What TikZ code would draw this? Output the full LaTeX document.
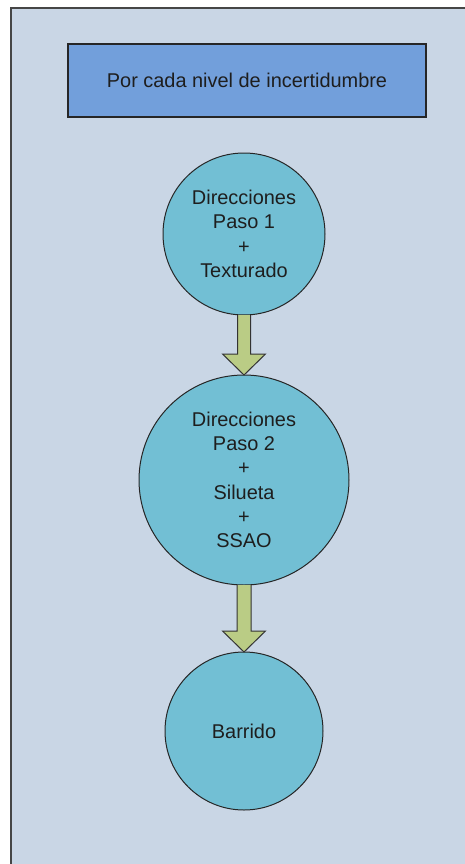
\documentclass[tikz,border=0pt]{standalone}
\usepackage{fontspec}
\setmainfont{Liberation Sans}
\usetikzlibrary{calc}
\definecolor{framebg}{RGB}{201,214,229}
\definecolor{frameline}{RGB}{70,70,70}
\definecolor{boxfill}{RGB}{114,159,219}
\definecolor{circfill}{RGB}{114,191,212}
\definecolor{arrfill}{RGB}{186,204,133}
\definecolor{txt}{RGB}{30,30,30}
\tikzset{
  titlebox/.style={draw=black!85, line width=1.2bp, fill=boxfill, minimum width=358bp, minimum height=73bp, inner sep=0, outer sep=0, text=txt, font=\fontsize{20}{24}\selectfont},
  stage/.style={circle, draw=black!85, line width=1bp, fill=circfill, inner sep=0, outer sep=0, align=center, text=txt, font=\fontsize{20}{24.4}\selectfont},
  blockarrow/.style={draw=black!80, line width=1bp, fill=arrfill, line join=miter}
}
\begin{document}
\begin{tikzpicture}[x=1bp,y=-1bp]
\useasboundingbox (0,0) rectangle (465,864);
\fill[white] (0,0) rectangle (465,864);
\fill[framebg] (11,8) rectangle (470,870);
\draw[frameline, line width=2bp] (11,870) -- (11,8) -- (470,8);

\node[titlebox] (title) at (247,80.5) {Por cada nivel de incertidumbre};

\node[stage, minimum size=162bp] (c1) at (244,234) {Direcciones\\Paso 1\\+\\Texturado};
\node[stage, minimum size=210bp] (c2) at (244,480) {Direcciones\\Paso 2\\+\\Silueta\\+\\SSAO};
\node[stage, minimum size=158bp] (c3) at (244,731) {Barrido};

\draw[blockarrow] ($(c1.south)+(-6.5,0)$) -- ($(c2.north)+(-6.5,-21)$) -- ($(c2.north)+(-21.5,-21)$) -- (c2.north) -- ($(c2.north)+(21.5,-21)$) -- ($(c2.north)+(6.5,-21)$) -- ($(c1.south)+(6.5,0)$);
\draw[blockarrow] ($(c2.south)+(-7,0)$) -- ($(c3.north)+(-7,-21)$) -- ($(c3.north)+(-21.5,-21)$) -- (c3.north) -- ($(c3.north)+(21.5,-21)$) -- ($(c3.north)+(7,-21)$) -- ($(c2.south)+(7,0)$);
\end{tikzpicture}
\end{document}
